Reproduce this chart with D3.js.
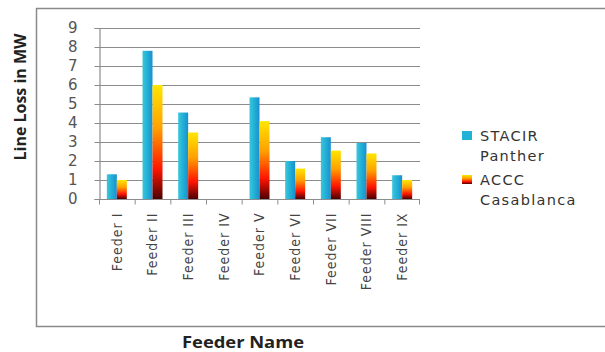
<!DOCTYPE html>
<html>
<head>
<meta charset="utf-8">
<script src="https://cdn.jsdelivr.net/npm/d3@7"></script>
<style>
  html, body { margin: 0; padding: 0; background: #fff; }
  svg { display: block; }
</style>
</head>
<body>
<svg id="chart" width="605" height="352"></svg>
<script>
// Line loss per feeder, in MW, for the two conductor types
const feeders = ["Feeder I", "Feeder II", "Feeder III", "Feeder IV", "Feeder V",
                 "Feeder VI", "Feeder VII", "Feeder VIII", "Feeder IX"];
const stacirPanther = [1.3, 7.8, 4.55, 0, 5.35, 2.0, 3.25, 2.95, 1.25];
const acccCasablanca = [1.0, 6.0, 3.5, 0, 4.1, 1.6, 2.55, 2.4, 1.0];
const seriesNames = [["STACIR", "Panther"], ["ACCC", "Casablanca"]];
const yTicks = [0, 1, 2, 3, 4, 5, 6, 7, 8, 9];

const svg = d3.select("#chart");
const W = 605, H = 352;
const plot = { left: 99, right: 420, top: 28, bottom: 199 };

svg.append("rect").attr("width", W).attr("height", H).attr("fill", "#fff");

// gradients for the two series
const defs = svg.append("defs");
const gBlue = defs.append("linearGradient").attr("id", "gBlue")
  .attr("x1", 0).attr("y1", 0).attr("x2", 1).attr("y2", 0);
[[0, "#3cc6dc"], [0.45, "#22b2d6"], [1, "#1b8ed0"]].forEach(([o, c]) =>
  gBlue.append("stop").attr("offset", o).attr("stop-color", c));
const gFire = defs.append("linearGradient").attr("id", "gFire")
  .attr("x1", 0).attr("y1", 0).attr("x2", 0).attr("y2", 1);
[[0, "#ffe600"], [0.38, "#ffa000"], [0.74, "#ff1400"], [1, "#4a0000"]].forEach(([o, c]) =>
  gFire.append("stop").attr("offset", o).attr("stop-color", c));

// chart frame
svg.append("rect")
  .attr("x", 36.5).attr("y", 8.5).attr("width", 580).attr("height", 318)
  .attr("fill", "none").attr("stroke", "#8a8a8a").attr("stroke-width", 1.5);

const x = d3.scaleBand().domain(feeders).range([plot.left, plot.right]);
const y = d3.scaleLinear().domain([0, 9]).range([plot.bottom, plot.top]);
const barW = 10;

// horizontal gridlines
svg.append("g").selectAll("line").data(yTicks.filter(d => d > 0)).join("line")
  .attr("x1", plot.left).attr("x2", plot.right)
  .attr("y1", d => Math.round(y(d)) + 0.5).attr("y2", d => Math.round(y(d)) + 0.5)
  .attr("stroke", "#8c8c8c").attr("stroke-width", 1.2);

// y axis
const yAxis = svg.append("g")
  .attr("transform", `translate(${plot.left + 0.5},0)`)
  .call(d3.axisLeft(y).tickValues(yTicks).tickSize(5).tickPadding(17).tickFormat(d3.format("d")));
yAxis.select(".domain").attr("stroke", "#8c8c8c").attr("stroke-width", 1.2);
yAxis.selectAll(".tick line").attr("stroke", "#8c8c8c");
yAxis.selectAll(".tick text")
  .attr("fill", "#555").style("font-family", "'DejaVu Sans', sans-serif").style("font-size", "15px");

// bars
const groups = svg.append("g").selectAll("g").data(feeders).join("g")
  .attr("transform", d => `translate(${x(d) + x.bandwidth() / 2},0)`);
groups.append("rect")
  .attr("x", -barW).attr("width", barW)
  .attr("y", (d, i) => y(stacirPanther[i]))
  .attr("height", (d, i) => y(0) - y(stacirPanther[i]))
  .attr("fill", "url(#gBlue)");
groups.append("rect")
  .attr("x", 0).attr("width", barW)
  .attr("y", (d, i) => y(acccCasablanca[i]))
  .attr("height", (d, i) => y(0) - y(acccCasablanca[i]))
  .attr("fill", "url(#gFire)");

// x axis with category separators
const xAxis = svg.append("g")
  .attr("transform", `translate(0,${plot.bottom + 0.5})`);
xAxis.append("line").attr("x1", plot.left).attr("x2", plot.right)
  .attr("stroke", "#8c8c8c").attr("stroke-width", 1.2);
xAxis.selectAll("line.sep").data(feeders.concat(["end"])).join("line")
  .attr("class", "sep")
  .attr("x1", (d, i) => i < feeders.length ? x(d) + 0.5 : plot.right - 0.5)
  .attr("x2", (d, i) => i < feeders.length ? x(d) + 0.5 : plot.right - 0.5)
  .attr("y1", 0).attr("y2", 5)
  .attr("stroke", "#8c8c8c");
xAxis.selectAll("text").data(feeders).join("text")
  .attr("transform", d => `translate(${x(d) + x.bandwidth() / 2},13) rotate(-90)`)
  .attr("text-anchor", "end").attr("dy", "0.35em")
  .attr("fill", "#444")
  .style("font-family", "'DejaVu Sans Condensed', 'Liberation Sans Narrow', sans-serif")
  .style("font-size", "14px").style("letter-spacing", "1px")
  .text(d => d);

// axis titles
svg.append("text")
  .attr("transform", "translate(26,97) rotate(-90)")
  .attr("text-anchor", "middle")
  .attr("fill", "#222")
  .style("font-family", "'Open Sans', sans-serif").style("font-weight", "bold").style("font-size", "16.5px")
  .attr("textLength", 127).attr("lengthAdjust", "spacingAndGlyphs")
  .text("Line Loss in MW");
svg.append("text")
  .attr("x", 243).attr("y", 348)
  .attr("text-anchor", "middle")
  .attr("fill", "#222")
  .style("font-family", "'Open Sans', sans-serif").style("font-weight", "bold").style("font-size", "16px")
  .attr("textLength", 122).attr("lengthAdjust", "spacingAndGlyphs")
  .text("Feeder Name");

// legend
const legend = svg.append("g").attr("transform", "translate(462,131)");
const rowY = [0, 44];
seriesNames.forEach((lines, i) => {
  const g = legend.append("g").attr("transform", `translate(0,${rowY[i]})`);
  g.append("rect").attr("x", 0).attr("y", 0).attr("width", 10).attr("height", 9)
    .attr("fill", i === 0 ? "#22b2d6" : "url(#gFire)");
  lines.forEach((t, j) => {
    g.append("text").attr("x", 18).attr("y", 10 + j * 20)
      .attr("fill", "#333")
      .style("font-family", "'DejaVu Sans', sans-serif").style("font-size", "14.5px")
      .style("letter-spacing", "1.3px")
      .text(t);
  });
});
</script>
</body>
</html>
